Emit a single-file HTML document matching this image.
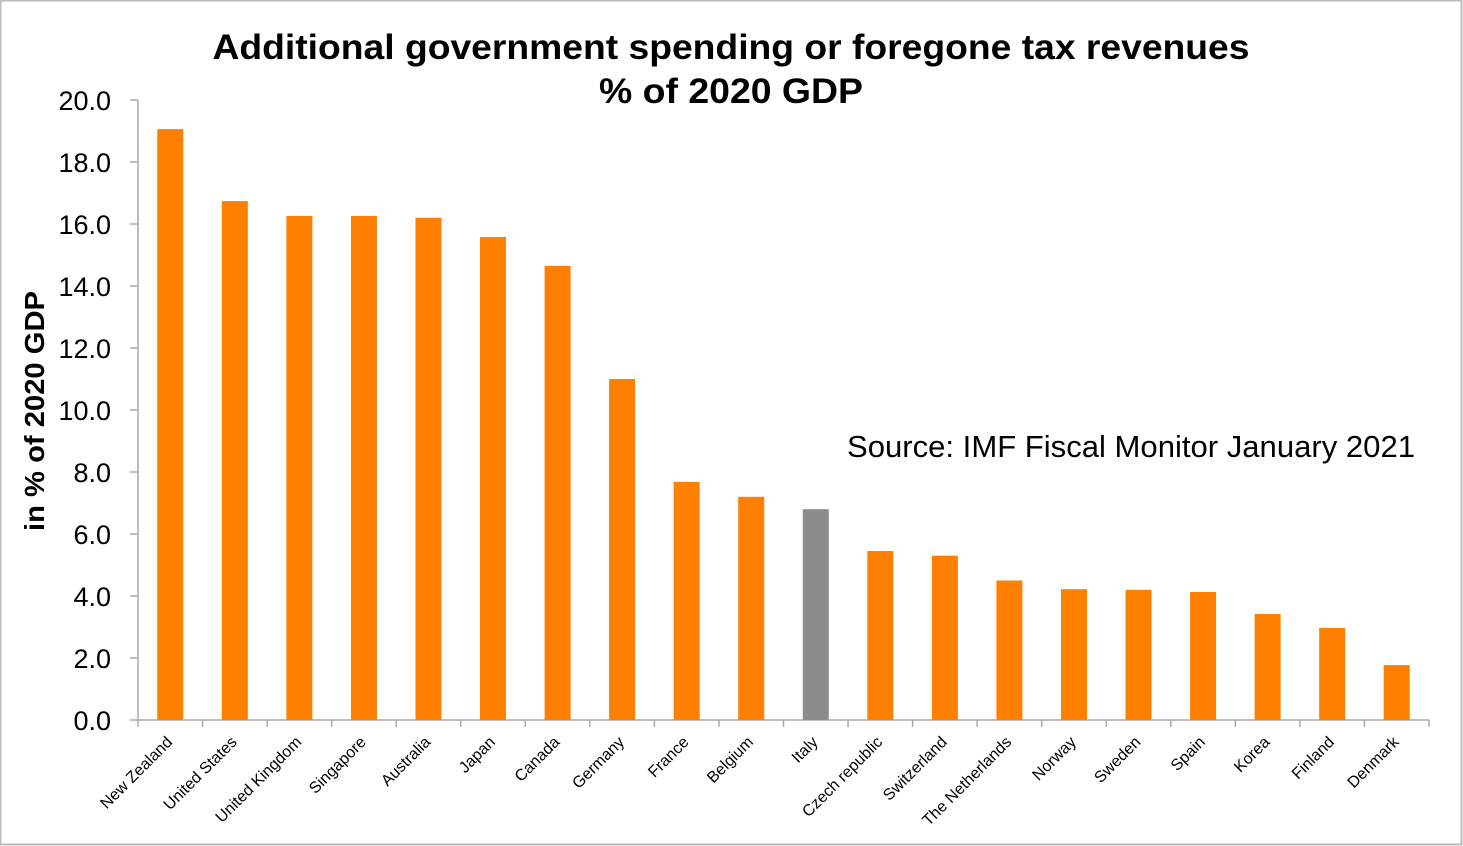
<!DOCTYPE html>
<html><head><meta charset="utf-8"><style>
body{margin:0;background:#fff;}
svg{display:block;font-family:"Liberation Sans",Arial,sans-serif;}
</style></head><body>
<svg width="1463" height="846" id="c">
<rect x="0.5" y="0.5" width="1461" height="844" fill="#fff" stroke="#bbb" stroke-width="2"/>
<text x="731" y="59" text-anchor="middle" font-size="35" font-weight="bold" textLength="1037" lengthAdjust="spacingAndGlyphs">Additional government spending or foregone tax revenues</text>
<text x="731" y="103" text-anchor="middle" font-size="35" font-weight="bold" textLength="264" lengthAdjust="spacingAndGlyphs">% of 2020 GDP</text>
<text x="0" y="0" transform="translate(44,411) rotate(-90)" text-anchor="middle" font-size="28" font-weight="bold" textLength="240" lengthAdjust="spacingAndGlyphs">in % of 2020 GDP</text>
<text x="1415" y="457" text-anchor="end" font-size="31" textLength="568" lengthAdjust="spacingAndGlyphs">Source: IMF Fiscal Monitor January 2021</text>
<g id="g"></g>
</svg>
<script>
const categories=["New Zealand","United States","United Kingdom","Singapore","Australia","Japan","Canada","Germany","France","Belgium","Italy","Czech republic","Switzerland","The Netherlands","Norway","Sweden","Spain","Korea","Finland","Denmark"];
const values=[19.06,16.74,16.26,16.26,16.2,15.58,14.65,11.0,7.68,7.2,6.8,5.45,5.3,4.5,4.22,4.2,4.13,3.42,2.97,1.77];
const yTicks=[0,2,4,6,8,10,12,14,16,18,20];
const yTickLabels=["0.0","2.0","4.0","6.0","8.0","10.0","12.0","14.0","16.0","18.0","20.0"];
const highlight="Italy";
const NS="http://www.w3.org/2000/svg";
const g=document.getElementById('g');
const x0=138,x1=1429,yBase=720,yTop=100,yMax=20;
const band=(x1-x0)/categories.length;
const y=v=>yBase-(yBase-yTop)*v/yMax;
const xc=i=>x0+band*(i+0.5);
function mk(t,a){const e=document.createElementNS(NS,t);for(const k in a)e.setAttribute(k,a[k]);g.appendChild(e);return e;}
let ax=mk('line',{x1:x0,y1:yTop,x2:x0,y2:yBase,stroke:'#aaa','stroke-width':1.5});


let bx=mk('line',{x1:x0,y1:yBase,x2:x1,y2:yBase,stroke:'#aaa','stroke-width':1.5});


yTicks.forEach((t,i)=>{
  const tk=mk('line',{x1:x0-8,y1:y(t),x2:x0,y2:y(t),stroke:'#aaa','stroke-width':1.5});
  
  
  const tx=mk('text',{x:x0-27,y:y(t)+10,'text-anchor':'end','font-size':27});
  tx.textContent=yTickLabels[i];
  
  
});
for(let i=0;i<=categories.length;i++){
  const tk=mk('line',{x1:x0+band*i,y1:yBase,x2:x0+band*i,y2:yBase+7,stroke:'#aaa','stroke-width':1.5});
  
  
}
categories.forEach((c,i)=>{
  const w=26;
  const r=mk('rect',{x:xc(i)-w/2,y:y(values[i]),width:w,height:yBase-y(values[i]),fill:c===highlight?'#8c8c8c':'#ff7f00'});
  
  
  const t=mk('text',{x:0,y:0,transform:`translate(${xc(i)+3},${yBase+23}) rotate(-45)`,'text-anchor':'end','font-size':16});
  t.textContent=c;
  
  
});
</script>
</body></html>
